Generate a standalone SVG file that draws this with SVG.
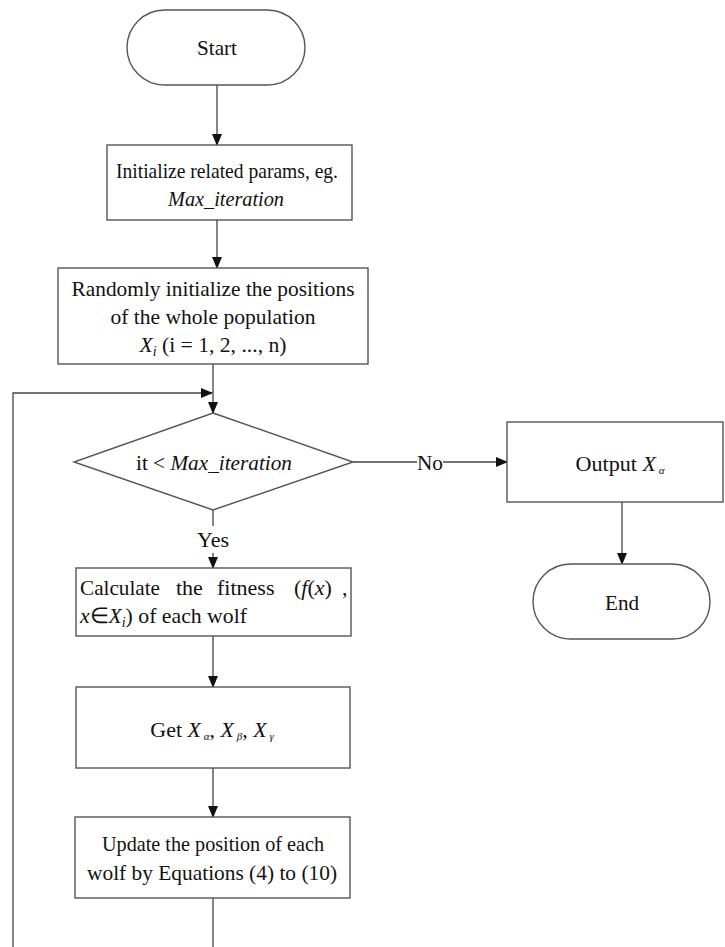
<svg xmlns="http://www.w3.org/2000/svg" width="725" height="947" viewBox="0 0 725 947">
<style>
.s{fill:#fff;stroke:#555;stroke-width:1.4}
.c{fill:none;stroke:#444;stroke-width:1.3}
text{font-family:"Liberation Serif","Times New Roman",serif;font-size:22px;fill:#111}
.m{text-anchor:middle}
.i{font-style:italic}
</style>
<defs>
<marker id="a" markerWidth="12" markerHeight="10" refX="11" refY="5" orient="auto" markerUnits="userSpaceOnUse">
<path d="M0,0 L12,5 L0,10 Z" fill="#111"/>
</marker>
</defs>
<g id="connectors">
<line class="c" x1="217" y1="85" x2="217" y2="145" marker-end="url(#a)"/>
<line class="c" x1="217" y1="220" x2="217" y2="268" marker-end="url(#a)"/>
<line class="c" x1="213" y1="364" x2="213" y2="413" marker-end="url(#a)"/>
<polyline class="c" points="13,947 13,393 212,393" marker-end="url(#a)"/>
<line class="c" x1="353" y1="462" x2="417" y2="462"/>
<line class="c" x1="443" y1="462" x2="507" y2="462" marker-end="url(#a)"/>
<text class="m" x="430" y="470" textLength="26" lengthAdjust="spacingAndGlyphs">No</text>
<line class="c" x1="213" y1="510" x2="213" y2="526"/>
<line class="c" x1="213" y1="553" x2="213" y2="568" marker-end="url(#a)"/>
<text class="m" x="213" y="547" textLength="32" lengthAdjust="spacingAndGlyphs">Yes</text>
<line class="c" x1="213" y1="636" x2="213" y2="687" marker-end="url(#a)"/>
<line class="c" x1="213" y1="768" x2="213" y2="817" marker-end="url(#a)"/>
<line class="c" x1="213" y1="898" x2="213" y2="947"/>
<line class="c" x1="622" y1="502" x2="622" y2="564" marker-end="url(#a)"/>
</g>
<g id="start">
<rect class="s" x="127" y="10" width="178" height="75" rx="37.5"/>
<text class="m" x="217" y="55" textLength="40" lengthAdjust="spacingAndGlyphs">Start</text>
</g>
<g id="init">
<rect class="s" x="107" y="145" width="245" height="75"/>
<text class="m" x="227" y="178" textLength="222" lengthAdjust="spacingAndGlyphs">Initialize related params, eg.</text>
<text class="m i" x="226" y="206" textLength="116" lengthAdjust="spacingAndGlyphs">Max_iteration</text>
</g>
<g id="randinit">
<rect class="s" x="58" y="268" width="310" height="96"/>
<text class="m" x="213" y="296" textLength="283" lengthAdjust="spacingAndGlyphs">Randomly initialize the positions</text>
<text class="m" x="213" y="324" textLength="205" lengthAdjust="spacingAndGlyphs">of the whole population</text>
<text class="m" x="213" y="352" textLength="147" lengthAdjust="spacingAndGlyphs"><tspan class="i">X</tspan><tspan class="i" font-size="14" dy="4">i</tspan><tspan dy="-4"> (i = 1, 2, ..., n)</tspan></text>
</g>
<g id="decision">
<polygon class="s" points="213,413 353,462 213,510 74,462"/>
<text class="m" x="214" y="470" textLength="156" lengthAdjust="spacingAndGlyphs">it &lt; <tspan class="i">Max_iteration</tspan></text>
</g>
<g id="output">
<rect class="s" x="507" y="422" width="216" height="80"/>
<text class="m" x="620" y="471" textLength="89" lengthAdjust="spacingAndGlyphs">Output <tspan class="i">X</tspan><tspan class="i" font-size="11" dy="3"> α</tspan></text>
</g>
<g id="end">
<rect class="s" x="533" y="564" width="177" height="75" rx="37.5"/>
<text class="m" x="622" y="610" textLength="34" lengthAdjust="spacingAndGlyphs">End</text>
</g>
<g id="fitness">
<rect class="s" x="76" y="568" width="275" height="68"/>
<text y="595"><tspan x="80" textLength="80" lengthAdjust="spacingAndGlyphs">Calculate</tspan><tspan x="176">the</tspan><tspan x="217">fitness</tspan><tspan x="294">(<tspan class="i">f</tspan>(<tspan class="i">x</tspan>)</tspan><tspan x="342">,</tspan></text>
<text x="80" y="623" textLength="167" lengthAdjust="spacingAndGlyphs"><tspan class="i">x</tspan>∈<tspan class="i">X</tspan><tspan class="i" font-size="14" dy="4">i</tspan><tspan dy="-4">) of each wolf</tspan></text>
</g>
<g id="getx">
<rect class="s" x="76" y="687" width="274" height="81"/>
<text class="m" x="212" y="737">Get <tspan class="i">X</tspan><tspan class="i" font-size="11" dy="3"> α</tspan><tspan dy="-3">, </tspan><tspan class="i">X</tspan><tspan class="i" font-size="11" dy="3"> β</tspan><tspan dy="-3">, </tspan><tspan class="i">X</tspan><tspan class="i" font-size="11" dy="3"> γ</tspan></text>
</g>
<g id="update">
<rect class="s" x="75" y="817" width="275" height="81"/>
<text class="m" x="213" y="851" textLength="222" lengthAdjust="spacingAndGlyphs">Update the position of each</text>
<text class="m" x="212" y="880" textLength="250" lengthAdjust="spacingAndGlyphs">wolf by Equations (4) to (10)</text>
</g>
</svg>
